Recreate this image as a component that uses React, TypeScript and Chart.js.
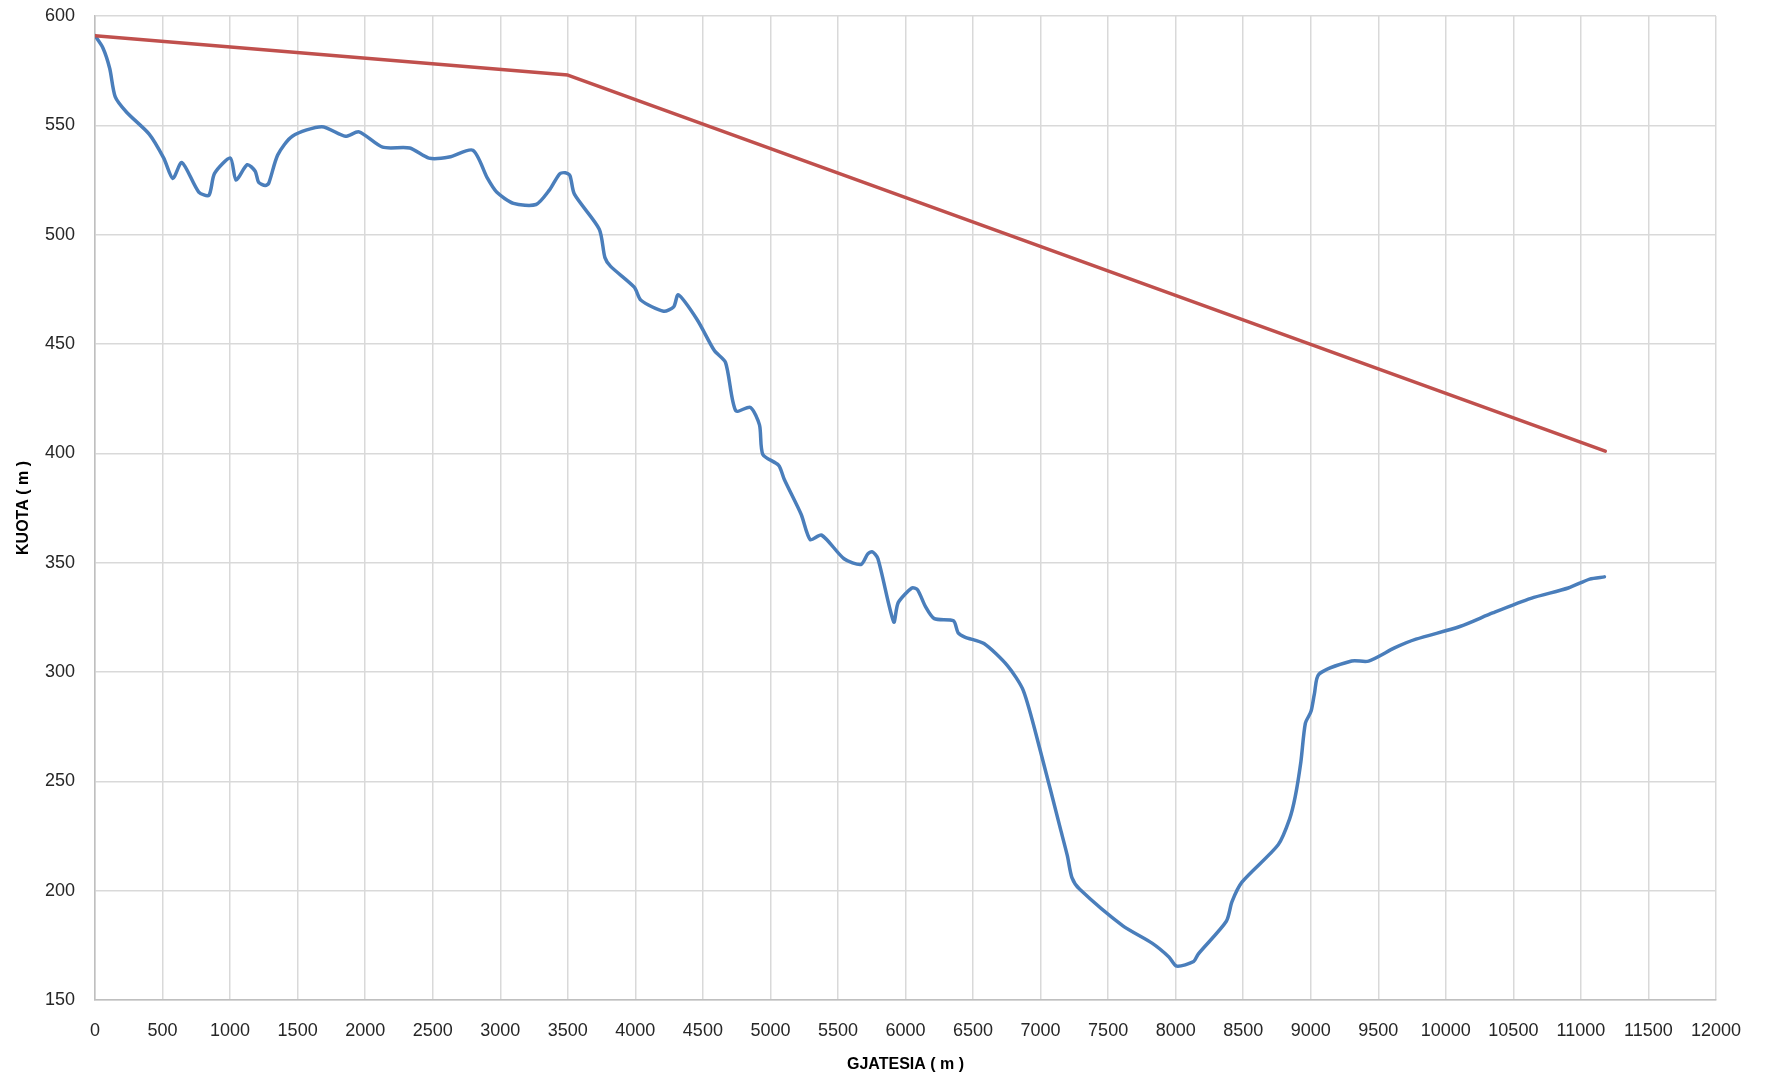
import React, { useEffect, useRef } from "react";
import { Chart, registerables } from "chart.js";

Chart.register(...registerables);

// Ground profile (blue)
const groundX = [0, 58, 109, 150, 234, 401, 509, 576, 643, 768, 843, 885, 1002, 1044, 1127, 1186, 1211, 1261, 1286, 1353, 1461, 1679, 1854, 1954, 2129, 2330, 2472, 2622, 2797, 2906, 2973, 3098, 3265, 3365, 3440, 3482, 3516, 3549, 3733, 3775, 3817, 3992, 4042, 4209, 4284, 4318, 4459, 4585, 4668, 4743, 4852, 4919, 4944, 5061, 5103, 5228, 5295, 5379, 5545, 5671, 5721, 5754, 5796, 5913, 5946, 6047, 6089, 6147, 6213, 6355, 6389, 6439, 6581, 6756, 6873, 6998, 7148, 7198, 7232, 7290, 7607, 7825, 7950, 8008, 8133, 8167, 8375, 8417, 8492, 8759, 8843, 8885, 8927, 8960, 9002, 9027, 9061, 9303, 9428, 9620, 9779, 10104, 10346, 10630, 10906, 11065, 11174];
const groundY = [591, 585.5, 576, 563, 556, 546, 535, 525.7, 533, 519.5, 518, 528, 535, 525, 532, 529, 524, 522.5, 523.5, 536.5, 545, 549.4, 545, 547, 540, 539.6, 535, 535.5, 538.6, 525.7, 519.5, 514.3, 513.8, 520.5, 527.8, 528.3, 527, 518.5, 502.5, 489.5, 485.5, 476, 470, 465, 467, 472.5, 461, 447, 441.5, 419.5, 421, 413, 399.5, 394.5, 388, 372, 360.5, 362.6, 351.8, 349.2, 354, 355, 351.8, 322.9, 331.7, 338.4, 337.6, 330, 324.4, 323.4, 318, 316, 313, 302.8, 291.4, 264, 228, 216, 206, 200.6, 184, 176, 169.7, 165.5, 167.6, 171, 186, 195, 204, 221, 232.7, 243, 259, 276.5, 282, 290, 299, 305, 305, 311, 315, 320.8, 327, 333.7, 338.4, 342.5, 343.5];

// Design line (red)
const designX = [0, 3500, 11180];
const designY = [591, 573, 401];

const xMin = 0;
const xMax = 12000;
const xStep = 500;
const yMin = 150;
const yMax = 600;
const yStep = 50;

const xTitle = "GJATESIA ( m )";
const yTitle = "KUOTA ( m )";

const FONT = '"Liberation Sans", Arial, sans-serif';

export default function App() {
  const ref = useRef<HTMLCanvasElement | null>(null);

  useEffect(() => {
    if (!ref.current) return;
    const ground = groundX.map((x, i) => ({ x, y: groundY[i] }));
    const design = designX.map((x, i) => ({ x, y: designY[i] }));
    const chart = new Chart(ref.current, {
      type: "scatter",
      data: {
        datasets: [
          {
            data: design,
            showLine: true,
            borderColor: "#c0504d",
            borderWidth: 3.5,
            pointRadius: 0,
            tension: 0,
            borderJoinStyle: "round",
            borderCapStyle: "round",
          },
          {
            data: ground,
            showLine: true,
            borderColor: "#4a7ebb",
            borderWidth: 3.5,
            pointRadius: 0,
            tension: 0.25,
            borderJoinStyle: "round",
            borderCapStyle: "round",
          },
        ],
      },
      options: {
        responsive: false,
        animation: false,
        layout: { padding: { top: 16, right: 53, left: 0, bottom: 6 } },
        plugins: { legend: { display: false }, tooltip: { enabled: false } },
        scales: {
          x: {
            type: "linear",
            min: xMin,
            max: xMax,
            afterFit: (s: any) => {
              s.height = 74;
            },
            ticks: {
              stepSize: xStep,
              padding: 20,
              color: "#262626",
              font: { family: FONT, size: 18 },
              maxRotation: 0,
              autoSkip: false,
              callback: (v: any) => String(v),
            },
            grid: { color: "#d9d9d9", lineWidth: 1.5, drawTicks: false },
            border: { color: "#bfbfbf", width: 1.5 },
            title: {
              display: true,
              text: xTitle,
              color: "#000",
              font: { family: FONT, size: 16, weight: "bold" },
              padding: { top: 7, bottom: 0 },
            },
          },
          y: {
            type: "linear",
            min: yMin,
            max: yMax,
            afterFit: (s: any) => {
              s.width = 95;
            },
            ticks: {
              stepSize: yStep,
              padding: 0,
              color: "#262626",
              font: { family: FONT, size: 18 },
              callback: (v: any) => String(v),
            },
            grid: {
              color: "#d9d9d9",
              lineWidth: 1.5,
              drawTicks: true,
              tickLength: 20,
              tickColor: "rgba(0,0,0,0)",
            },
            border: { color: "#bfbfbf", width: 1.5 },
            title: {
              display: true,
              text: yTitle,
              color: "#000",
              font: { family: FONT, size: 16, weight: "bold" },
              padding: { top: 14, bottom: 0 },
            },
          },
        },
      },
    });
    return () => chart.destroy();
  }, []);

  return (
    <div style={{ position: "fixed", left: 0, top: 0, width: 1769, height: 1080, background: "#fff" }}>
      <canvas ref={ref} width={1769} height={1080} style={{ width: 1769, height: 1080 }} />
    </div>
  );
}
